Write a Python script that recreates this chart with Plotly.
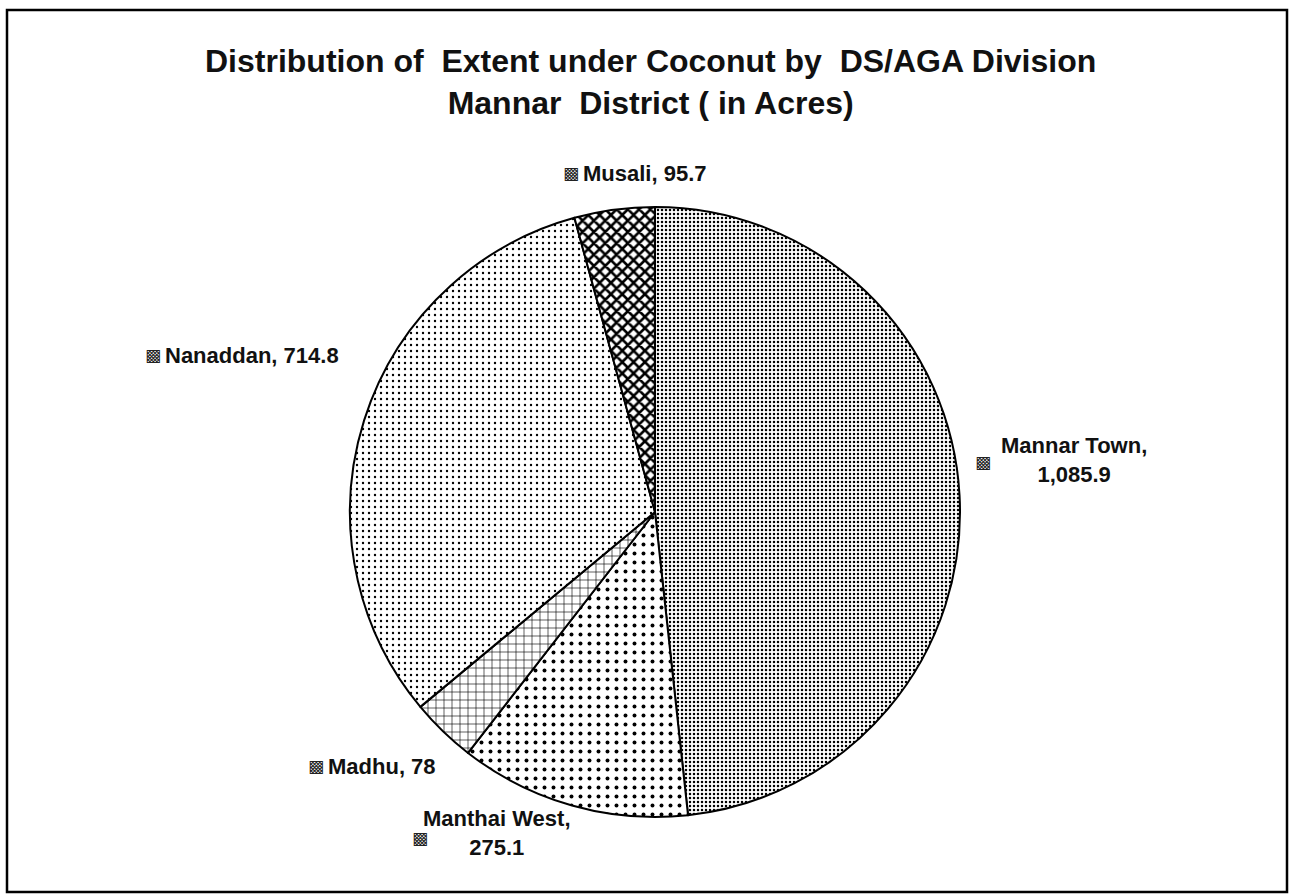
import plotly.graph_objects as go

divisions = ["Mannar Town", "Manthai West", "Madhu", "Nanaddan", "Musali"]
extent = [1085.9, 275.1, 78, 714.8, 95.7]
value_labels = ["1,085.9", "275.1", "78", "714.8", "95.7"]
two_line = [True, True, False, False, False]

pat_shape = [".", ".", "+", ".", "x"]
pat_size = [4, 9, 8, 6, 8]
pat_solid = [0.3, 0.15, 0.15, 0.12, 0.55]

W, H = 1291, 894

fig = go.Figure(go.Pie(
    labels=divisions,
    values=extent,
    sort=False,
    direction="clockwise",
    rotation=0,
    textinfo="none",
    hoverinfo="label+value",
    marker=dict(
        colors=["white"] * 5,
        line=dict(color="black", width=2),
        pattern=dict(shape=pat_shape, size=pat_size, solidity=pat_solid,
                     fgcolor="black", bgcolor="white", fillmode="replace"),
    ),
    domain=dict(x=[348 / W, 962 / W], y=[(H - 817) / H, (H - 207) / H]),
    showlegend=False,
))

font_lbl = dict(family="Liberation Sans, Arial, sans-serif", size=22, color="#111")

# label centres and key-icon centres (page pixels)
label_pos = [(1074, 460), (497, 833), (382, 766), (252, 355), (645, 173)]
icon_pos = [(983, 462), (420, 838), (316, 766), (153, 355), (571, 173)]

anns = []
for i, name in enumerate(divisions):
    sep = ",<br>" if two_line[i] else ", "
    text = f"<b>{name}{sep}{value_labels[i]}</b>"
    x, y = label_pos[i]
    ix, iy = icon_pos[i]
    anns.append(dict(x=x / W, y=1 - y / H, xref="paper", yref="paper", text=text,
                     showarrow=False, font=font_lbl, align="center",
                     xanchor="center", yanchor="middle"))
    anns.append(dict(x=ix / W, y=1 - iy / H, xref="paper", yref="paper", text="▩",
                     showarrow=False, font=dict(family="DejaVu Sans", size=17, color="#222"),
                     xanchor="center", yanchor="middle"))

anns.append(dict(
    x=650 / W, y=1 - 82 / H, xref="paper", yref="paper",
    text="<b>Distribution of  Extent under Coconut by  DS/AGA Division<br>Mannar  District ( in Acres)</b>",
    showarrow=False, align="center", xanchor="center", yanchor="middle",
    font=dict(family="Liberation Sans, Arial, sans-serif", size=32, color="#111"),
))

fig.update_layout(
    width=W, height=H,
    margin=dict(l=0, r=0, t=0, b=0),
    paper_bgcolor="white",
    plot_bgcolor="white",
    annotations=anns,
    shapes=[dict(type="rect", xref="paper", yref="paper",
                 x0=7 / W, x1=1287 / W, y0=1 - 892 / H, y1=1 - 10 / H,
                 line=dict(color="black", width=2.5))],
)

fig.write_html("out.html",
               config={"displayModeBar": False},
               post_script="document.body.style.margin='0';document.body.style.overflow='hidden';")
